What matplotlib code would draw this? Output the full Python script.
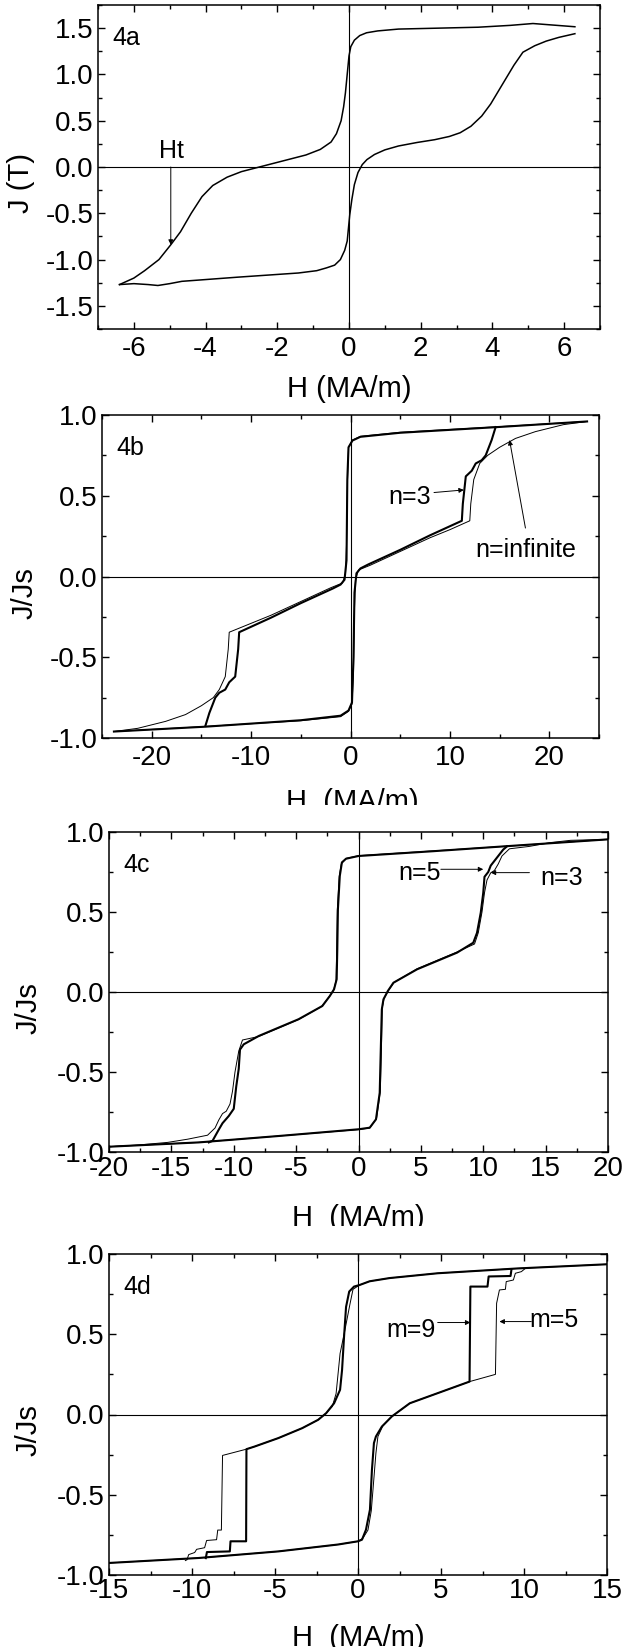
import matplotlib
matplotlib.use("Agg")
import matplotlib.pyplot as plt
from matplotlib.ticker import MultipleLocator, FormatStrFormatter
from matplotlib.transforms import Bbox, TransformedBbox

plt.rcParams["font.family"] = ["Liberation Sans", "DejaVu Sans"]
plt.rcParams["axes.unicode_minus"] = False

# ---- panel 4a : J (T) vs H (MA/m), one loop
a_desc_H = [6.3, 5.8, 5.13, 4.5, 3.6, 2.5, 1.38, 0.8, 0.49, 0.3, 0.15, 0.05, 0.0, -0.05,
            -0.1, -0.15, -0.22, -0.35, -0.5, -0.8, -1.2, -1.6, -2.0, -2.5, -3.0, -3.4,
            -3.8, -4.1, -4.4, -4.7, -4.97, -5.3, -5.7, -6.0, -6.4]
a_desc_J = [1.515, 1.53, 1.55, 1.53, 1.51, 1.50, 1.49, 1.47, 1.45, 1.42, 1.37, 1.30,
            1.2, 1.0, 0.8, 0.65, 0.5, 0.36, 0.27, 0.19, 0.13, 0.09, 0.05, 0.0, -0.05,
            -0.11, -0.2, -0.32, -0.5, -0.7, -0.84, -1.0, -1.12, -1.2, -1.27]
a_asc_H = [-6.4, -6.0, -5.6, -5.33, -5.0, -4.66, -3.1, -1.41, -0.9, -0.63, -0.4, -0.24,
           -0.12, -0.05, 0.02, 0.08, 0.15, 0.25, 0.37, 0.5, 0.71, 1.0, 1.38, 1.9, 2.39,
           2.8, 3.1, 3.4, 3.7, 3.95, 4.29, 4.6, 4.85, 5.18, 5.5, 5.85, 6.3]
a_asc_J = [-1.27, -1.26, -1.27, -1.28, -1.26, -1.235, -1.19, -1.145, -1.12, -1.09,
           -1.06, -1.0, -0.9, -0.8, -0.52, -0.35, -0.19, -0.06, 0.026, 0.08, 0.135,
           0.185, 0.227, 0.265, 0.295, 0.33, 0.37, 0.44, 0.55, 0.68, 0.9, 1.1, 1.24,
           1.31, 1.36, 1.40, 1.44]
a_Ht = -4.97

# ---- panel 4b : J/Js, n=3 (thick) and n=infinite (thin)
b_n3_asc_H = [-23.8, -14.6, -5, -1, -0.2, 0.15, 0.3, 0.4, 0.6, 1.0, 1.8, 5, 8, 11.2,
              11.3, 11.6, 12.2, 12.6, 13.2, 13.6, 14.2, 14.6]
b_n3_asc_J = [-0.96, -0.93, -0.89, -0.862, -0.83, -0.78, -0.5, -0.1, 0.02, 0.05, 0.075,
              0.165, 0.255, 0.345, 0.45, 0.62, 0.655, 0.70, 0.72, 0.75, 0.845, 0.925]
b_n3_desc_H = [23.8, 15, 5, 1, 0.2, -0.2, -0.32, -0.4, -0.6, -1.0, -1.8, -5, -8, -11.2,
               -11.3, -11.6, -12.2, -12.6, -13.2, -13.6, -14.2, -14.6]
b_n3_desc_J = [0.96, 0.926, 0.89, 0.865, 0.842, 0.80, 0.6, 0.1, -0.02, -0.05, -0.075,
               -0.165, -0.255, -0.345, -0.45, -0.62, -0.655, -0.70, -0.72, -0.75,
               -0.845, -0.925]
b_ninf_asc_H = [-23.8, -15, -5, -1, -0.2, 0.15, 0.3, 0.4, 0.5, 0.8, 2, 5, 8, 10, 12.0,
                12.1, 12.4, 13, 13.8, 15, 16.6, 18.6, 21.4, 23.8]
b_ninf_asc_J = [-0.96, -0.93, -0.893, -0.868, -0.835, -0.79, -0.6, -0.2, -0.02, 0.04,
                0.07, 0.155, 0.24, 0.29, 0.345, 0.45, 0.6, 0.70, 0.75, 0.80, 0.855,
                0.897, 0.94, 0.96]
b_ninf_desc_H = [23.8, 15, 5, 1, 0.2, -0.2, -0.3, -0.4, -0.5, -0.8, -2, -5, -8, -10,
                 -12.2, -12.3, -12.6, -13.2, -13.8, -15, -16.6, -18.6, -21.4, -23.8]
b_ninf_desc_J = [0.96, 0.928, 0.893, 0.868, 0.845, 0.80, 0.6, 0.2, 0.02, -0.04, -0.07,
                 -0.155, -0.24, -0.29, -0.345, -0.45, -0.62, -0.70, -0.75, -0.80,
                 -0.855, -0.897, -0.94, -0.96]

# ---- panel 4c : n=5 / n=3
c_thick_asc_H = [-20, -12.8, -6.4, 0, 0.9, 1.4, 1.7, 1.8, 1.87, 2.0, 2.35, 2.8, 4.7,
                 7.9, 9.2, 9.5, 9.8, 10.0, 10.1, 10.4, 10.6, 11.0, 11.3, 11.6, 11.9]
c_thick_asc_J = [-0.967, -0.94, -0.9, -0.858, -0.848, -0.796, -0.63, -0.317, -0.108,
                 -0.046, 0.006, 0.058, 0.142, 0.246, 0.308, 0.37, 0.496, 0.62, 0.72,
                 0.75, 0.79, 0.83, 0.86, 0.89, 0.91]
c_thick_desc_H = [20, 12, 6, 2, 0, -1.0, -1.33, -1.5, -1.65, -1.7, -1.75, -1.96, -2.3,
                  -2.9, -4.8, -8.0, -9.2, -9.5, -9.6, -9.8, -10.0, -10.4, -10.9, -11.2,
                  -11.7, -12.0]
c_thick_desc_J = [0.954, 0.912, 0.88, 0.86, 0.85, 0.833, 0.81, 0.725, 0.517, 0.267,
                  0.08, 0.017, -0.025, -0.0875, -0.17, -0.275, -0.327, -0.36, -0.48,
                  -0.59, -0.73, -0.775, -0.82, -0.86, -0.93, -0.94]
c_thin_asc_H = [-20, -12.8, -6.4, 0, 0.9, 1.45, 1.75, 1.85, 1.9, 2.05, 2.4, 2.85, 4.7,
                7.9, 9.3, 9.6, 9.9, 10.1, 10.3, 10.6, 10.9, 11.2, 11.5, 12.1, 13.7,
                15.3, 17, 20]
c_thin_asc_J = [-0.967, -0.94, -0.9, -0.86, -0.85, -0.79, -0.62, -0.31, -0.1, -0.04,
                0.01, 0.06, 0.145, 0.25, 0.30, 0.37, 0.5, 0.62, 0.70, 0.745, 0.76,
                0.80, 0.85, 0.895, 0.91, 0.933, 0.948, 0.954]
c_thin_desc_H = [20, 12, 6, 2, 0, -1.0, -1.38, -1.55, -1.7, -1.75, -1.8, -2.0, -2.35,
                 -2.95, -4.8, -8.0, -9.3, -9.6, -9.9, -10.1, -10.3, -10.6, -10.9, -11.2,
                 -11.5, -12.1, -13.7, -15.3, -17.6, -20]
c_thin_desc_J = [0.954, 0.912, 0.882, 0.862, 0.852, 0.835, 0.80, 0.72, 0.51, 0.26, 0.07,
                 0.01, -0.03, -0.09, -0.172, -0.278, -0.30, -0.37, -0.5, -0.62, -0.70,
                 -0.745, -0.76, -0.80, -0.85, -0.895, -0.92, -0.94, -0.956, -0.967]

# ---- panel 4d : m=9 (thick) / m=5 (thin)
d_m9_desc_H = [15, 9.6, 4.8, 1.9, 0.7, 0.1, -0.24, -0.53, -0.72, -0.84, -0.96, -1.08,
               -1.44, -1.92, -2.4, -3.36, -4.8, -6.24, -6.72, -6.74, -7.68, -7.72,
               -9.1, -9.17]
d_m9_desc_J = [0.936, 0.91, 0.88, 0.85, 0.83, 0.807, 0.797, 0.766, 0.67, 0.485, 0.278,
               0.154, 0.07, 0.008, -0.033, -0.085, -0.147, -0.2, -0.216, -0.79, -0.79,
               -0.853, -0.857, -0.895]
d_m9_asc_H = [-15, -9.6, -4.8, -1.2, 0, 0.24, 0.48, 0.72, 0.84, 0.96, 1.08, 1.44, 2.04,
              3.12, 4.8, 6.72, 6.77, 7.8, 7.87, 9.19, 9.24]
d_m9_asc_J = [-0.925, -0.894, -0.853, -0.81, -0.79, -0.78, -0.718, -0.593, -0.344,
              -0.178, -0.137, -0.075, -0.012, 0.07, 0.133, 0.205, 0.797, 0.797, 0.86,
              0.863, 0.90]
d_m5_desc_H = [15, 9.6, 4.8, 1.9, 0.7, 0.1, -0.3, -0.48, -0.8, -1.08, -1.32, -1.55,
               -1.92, -2.4, -3.36, -4.8, -6.24, -6.72, -8.16, -8.23, -8.45, -8.52,
               -9.12, -9.24, -9.72, -9.84, -10.2, -10.3, -10.4]
d_m5_desc_J = [0.936, 0.91, 0.88, 0.85, 0.83, 0.807, 0.78, 0.69, 0.52, 0.38, 0.13,
               0.05, 0.008, -0.033, -0.085, -0.147, -0.2, -0.216, -0.255, -0.72, -0.72,
               -0.78, -0.785, -0.83, -0.84, -0.86, -0.873, -0.905, -0.91]
d_m5_asc_H = [-15, -9.6, -4.8, -1.2, 0, 0.3, 0.6, 0.8, 1.08, 1.2, 1.5, 2.04, 3.12, 4.8,
              6.72, 8.28, 8.35, 8.52, 8.88, 8.93, 9.36, 9.48, 9.84, 10.08, 10.4]
d_m5_asc_J = [-0.925, -0.894, -0.853, -0.81, -0.79, -0.77, -0.72, -0.6, -0.24, -0.137,
              -0.07, -0.012, 0.07, 0.133, 0.205, 0.25, 0.693, 0.776, 0.78, 0.828, 0.838,
              0.88, 0.89, 0.91, 0.915]

W, Hpx = 624, 1647
TICK_FS, LABEL_FS, NOTE_FS = 20, 21, 18
fig = plt.figure(figsize=(W / 100, Hpx / 100), dpi=100)


def make_axes(x0, x1, y0, y1):
    return fig.add_axes([x0 / W, 1 - y1 / Hpx, (x1 - x0) / W, (y1 - y0) / Hpx])


def style(ax, xlim, ylim, xmaj, xmin, ylabel, tag, pad_x, ylab_x):
    ax.set_xlim(*xlim)
    ax.set_ylim(*ylim)
    ax.xaxis.set_major_locator(MultipleLocator(xmaj))
    ax.xaxis.set_minor_locator(MultipleLocator(xmin))
    ax.yaxis.set_major_locator(MultipleLocator(0.5))
    ax.yaxis.set_minor_locator(MultipleLocator(0.25))
    ax.yaxis.set_major_formatter(FormatStrFormatter("%.1f"))
    ax.tick_params(which="both", direction="in", top=True, right=True,
                   labelsize=TICK_FS, width=1.0)
    ax.tick_params(axis="x", pad=pad_x)
    ax.tick_params(axis="y", pad=3)
    ax.tick_params(which="major", length=5)
    ax.tick_params(which="minor", length=3)
    for s in ax.spines.values():
        s.set_linewidth(1.1)
    ax.axhline(0, color="k", lw=0.8, zorder=1)
    ax.axvline(0, color="k", lw=0.8, zorder=1)
    ax.set_ylabel(ylabel, fontsize=LABEL_FS)
    ax.yaxis.set_label_coords(ylab_x, 0.45)
    ax.text(0.028, 0.935, tag, transform=ax.transAxes, fontsize=NOTE_FS,
            ha="left", va="top")


def arrow(ax, start, end):
    ax.annotate("", xy=end, xytext=start,
                arrowprops=dict(arrowstyle="-|>", color="k", lw=0.7,
                                mutation_scale=7, shrinkA=0, shrinkB=0))


def xlabel(text, xc, ytop, ycut=None):
    t = fig.text(xc / W, 1 - ytop / Hpx, text, ha="center", va="top",
                 fontsize=LABEL_FS)
    if ycut is not None:
        t.set_clip_box(TransformedBbox(Bbox([[0, 1 - ycut / Hpx], [1, 1]]),
                                       fig.transFigure))
        t.set_clip_on(True)


# 4a
ax = make_axes(98, 600, 5, 329)
style(ax, (-7, 7), (-1.75, 1.75), 2, 1, "J (T)", "4a", 5, -0.125)
ax.plot(a_desc_H, a_desc_J, color="k", lw=1.1)
ax.plot(a_asc_H, a_asc_J, color="k", lw=1.1)
arrow(ax, (a_Ht, 0), (a_Ht, -0.84))
ax.text(a_Ht + 0.03, 0.17, "Ht", fontsize=NOTE_FS, ha="center", va="center")
xlabel("H (MA/m)", 349, 375)

# 4b
ax = make_axes(102, 599, 415, 738)
style(ax, (-25, 25), (-1, 1), 10, 5, "J/Js", "4b", 5, -0.127)
ax.plot(b_ninf_asc_H, b_ninf_asc_J, color="k", lw=0.7)
ax.plot(b_ninf_desc_H, b_ninf_desc_J, color="k", lw=0.7)
ax.plot(b_n3_asc_H, b_n3_asc_J, color="k", lw=1.5)
ax.plot(b_n3_desc_H, b_n3_desc_J, color="k", lw=1.5)
ax.text(6.0, 0.495, "n=3", fontsize=NOTE_FS, ha="center", va="center")
arrow(ax, (8.4, 0.52), (11.4, 0.536))
ax.text(17.6, 0.165, "n=infinite", fontsize=NOTE_FS, ha="center", va="center")
arrow(ax, (17.6, 0.30), (16.0, 0.845))
xlabel("H  (MA/m)", 352, 788, 805)

# 4c
ax = make_axes(109, 608, 832, 1152)
style(ax, (-20, 20), (-1, 1), 5, 2.5, "J/Js", "4c", 3, -0.134)
ax.plot(c_thin_asc_H, c_thin_asc_J, color="k", lw=0.7)
ax.plot(c_thin_desc_H, c_thin_desc_J, color="k", lw=0.7)
ax.plot(c_thick_asc_H, c_thick_asc_J, color="k", lw=1.5)
ax.plot(c_thick_desc_H, c_thick_desc_J, color="k", lw=1.5)
ax.text(4.9, 0.746, "n=5", fontsize=NOTE_FS, ha="center", va="center")
arrow(ax, (6.6, 0.767), (10.0, 0.767))
ax.text(16.3, 0.715, "n=3", fontsize=NOTE_FS, ha="center", va="center")
arrow(ax, (13.7, 0.746), (10.6, 0.746))
xlabel("H  (MA/m)", 358, 1204, 1226)

# 4d
ax = make_axes(109, 607, 1254, 1575)
style(ax, (-15, 15), (-1, 1), 5, 2.5, "J/Js", "4d", 2, -0.134)
ax.plot(d_m5_asc_H, d_m5_asc_J, color="k", lw=0.7)
ax.plot(d_m5_desc_H, d_m5_desc_J, color="k", lw=0.7)
ax.plot(d_m9_asc_H, d_m9_asc_J, color="k", lw=1.5)
ax.plot(d_m9_desc_H, d_m9_desc_J, color="k", lw=1.5)
ax.text(3.2, 0.527, "m=9", fontsize=NOTE_FS, ha="center", va="center")
arrow(ax, (4.8, 0.573), (6.77, 0.573))
ax.text(11.8, 0.589, "m=5", fontsize=NOTE_FS, ha="center", va="center")
arrow(ax, (10.44, 0.579), (8.52, 0.579))
xlabel("H  (MA/m)", 358, 1624)

fig.savefig("out.png", dpi=100)
